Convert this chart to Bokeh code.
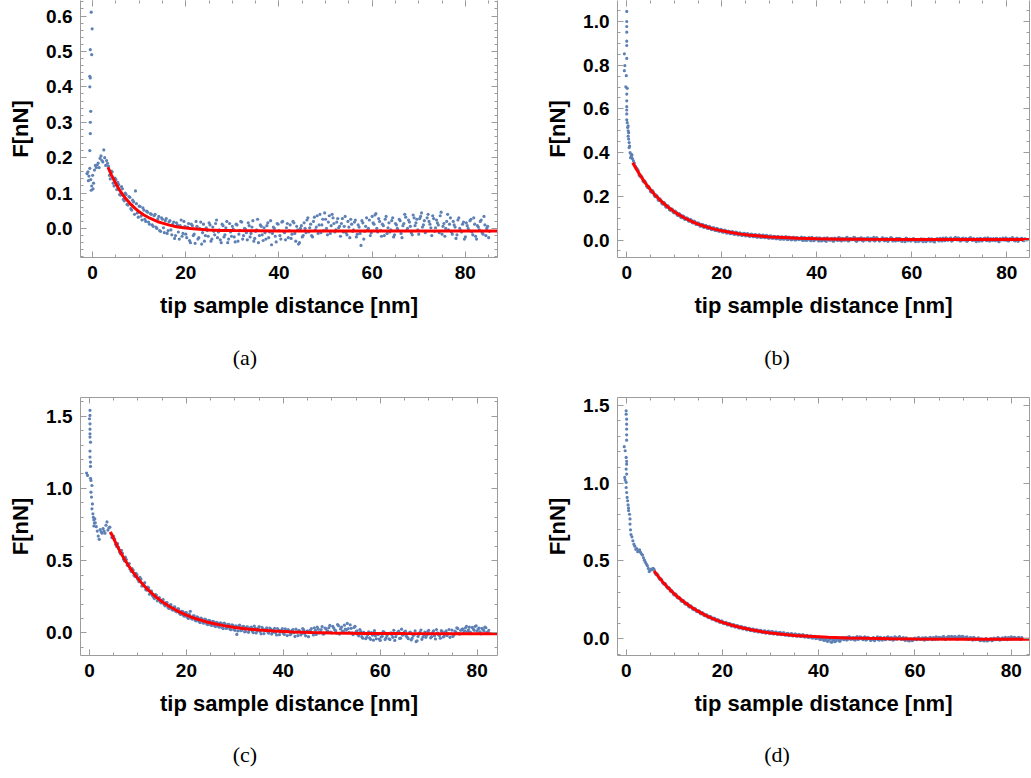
from bokeh.plotting import figure
from bokeh.models import (LinearAxis, Range1d, SingleIntervalTicker, Div, Spacer,
                          PrintfTickFormatter, CustomJSTickFormatter)
from bokeh.layouts import column, row
from bokeh.embed import file_html
from bokeh.resources import INLINE

# ---------------- data ----------------
# sampled tip-sample distances [nm] (two interleaved sample sets)
x_grid_nm = [
    1.2, 1.6, 2.0, 2.4, 2.8, 3.2, 3.6, 4.0, 4.4, 4.8,
    5.2, 5.6, 6.0, 6.4, 6.8, 7.2, 7.6, 8.0, 8.4, 8.8,
    9.2, 9.6, 10.0, 10.4, 10.8, 11.2, 11.6, 12.0, 12.4, 12.8,
    13.2, 13.6, 14.0, 14.4, 14.8, 15.2, 15.6, 16.0, 16.4, 16.8,
    17.2, 17.6, 18.0, 18.4, 18.8, 19.2, 19.6, 20.0, 20.4, 20.8,
    21.2, 21.6, 22.0, 22.4, 22.8, 23.2, 23.6, 24.0, 24.4, 24.8,
    25.2, 25.6, 26.0, 26.4, 26.8, 27.2, 27.6, 28.0, 28.4, 28.8,
    29.2, 29.6, 30.0, 30.4, 30.8, 31.2, 31.6, 32.0, 32.4, 32.8,
    33.2, 33.6, 34.0, 34.4, 34.8, 35.2, 35.6, 36.0, 36.4, 36.8,
    37.2, 37.6, 38.0, 38.4, 38.8, 39.2, 39.6, 40.0, 40.4, 40.8,
    41.2, 41.6, 42.0, 42.4, 42.8, 43.2, 43.6, 44.0, 44.4, 44.8,
    45.2, 45.6, 46.0, 46.4, 46.8, 47.2, 47.6, 48.0, 48.4, 48.8,
    49.2, 49.6, 50.0, 50.4, 50.8, 51.2, 51.6, 52.0, 52.4, 52.8,
    53.2, 53.6, 54.0, 54.4, 54.8, 55.2, 55.6, 56.0, 56.4, 56.8,
    57.2, 57.6, 58.0, 58.4, 58.8, 59.2, 59.6, 60.0, 60.4, 60.8,
    61.2, 61.6, 62.0, 62.4, 62.8, 63.2, 63.6, 64.0, 64.4, 64.8,
    65.2, 65.6, 66.0, 66.4, 66.8, 67.2, 67.6, 68.0, 68.4, 68.8,
    69.2, 69.6, 70.0, 70.4, 70.8, 71.2, 71.6, 72.0, 72.4, 72.8,
    73.2, 73.6, 74.0, 74.4, 74.8, 75.2, 75.6, 76.0, 76.4, 76.8,
    77.2, 77.6, 78.0, 78.4, 78.8, 79.2, 79.6, 80.0, 80.4, 80.8,
    81.2, 81.6, 82.0, 82.4, 82.8, 83.2, 83.6, 84.0, 84.4, 84.8,
    85.2,
]
x_grid2_nm = [
    1.4, 1.8, 2.2, 2.6, 3.0, 3.4, 3.8, 4.2, 4.6, 5.0,
    5.4, 5.8, 6.2, 6.6, 7.0, 7.4, 7.8, 8.2, 8.6, 9.0,
    9.4, 9.8, 10.2, 10.6, 11.0, 11.4, 11.8, 12.2, 12.6, 13.0,
    13.4, 13.8, 14.2, 14.6, 15.0, 15.4, 15.8, 16.2, 16.6, 17.0,
    17.4, 17.8, 18.2, 18.6, 19.0, 19.4, 19.8, 20.2, 20.6, 21.0,
    21.4, 21.8, 22.2, 22.6, 23.0, 23.4, 23.8, 24.2, 24.6, 25.0,
    25.4, 25.8, 26.2, 26.6, 27.0, 27.4, 27.8, 28.2, 28.6, 29.0,
    29.4, 29.8, 30.2, 30.6, 31.0, 31.4, 31.8, 32.2, 32.6, 33.0,
    33.4, 33.8, 34.2, 34.6, 35.0, 35.4, 35.8, 36.2, 36.6, 37.0,
    37.4, 37.8, 38.2, 38.6, 39.0, 39.4, 39.8, 40.2, 40.6, 41.0,
    41.4, 41.8, 42.2, 42.6, 43.0, 43.4, 43.8, 44.2, 44.6, 45.0,
    45.4, 45.8, 46.2, 46.6, 47.0, 47.4, 47.8, 48.2, 48.6, 49.0,
    49.4, 49.8, 50.2, 50.6, 51.0, 51.4, 51.8, 52.2, 52.6, 53.0,
    53.4, 53.8, 54.2, 54.6, 55.0, 55.4, 55.8, 56.2, 56.6, 57.0,
    57.4, 57.8, 58.2, 58.6, 59.0, 59.4, 59.8, 60.2, 60.6, 61.0,
    61.4, 61.8, 62.2, 62.6, 63.0, 63.4, 63.8, 64.2, 64.6, 65.0,
    65.4, 65.8, 66.2, 66.6, 67.0, 67.4, 67.8, 68.2, 68.6, 69.0,
    69.4, 69.8, 70.2, 70.6, 71.0, 71.4, 71.8, 72.2, 72.6, 73.0,
    73.4, 73.8, 74.2, 74.6, 75.0, 75.4, 75.8, 76.2, 76.6, 77.0,
    77.4, 77.8, 78.2, 78.6, 79.0, 79.4, 79.8, 80.2, 80.6, 81.0,
    81.4, 81.8, 82.2, 82.6, 83.0, 83.4, 83.8, 84.2, 84.6, 85.0,
]

# ---- panel (a) ----
head_a_x = [-0.3, -0.1, -0.5, -0.2, -0.6, -0.5, -0.6, -0.4, -0.5, -0.5, -0.6, -1.2, -1.0,
            -0.8, -0.6, -0.4, -0.2, 0.0, 0.2, -0.3, 0.4, 0.6, 0.8, 1.0, -0.9, 0.1]
head_a_F = [0.611, 0.564, 0.505, 0.491, 0.430, 0.425, 0.400, 0.331, 0.300, 0.268, 0.220, 0.155, 0.160,
            0.148, 0.170, 0.138, 0.120, 0.150, 0.128, 0.108, 0.165, 0.178, 0.172, 0.180, 0.135, 0.112]
F_a = [
    0.185, 0.198, 0.192, 0.222, 0.178, 0.184, 0.150, 0.162, 0.128, 0.142,
    0.110, 0.124, 0.094, 0.112, 0.078, 0.096, 0.066, 0.088, 0.052, 0.075,
    0.106, 0.044, 0.063, 0.035, 0.058, 0.026, 0.049, 0.018, 0.042, 0.010,
    0.036, 0.004, 0.027, -0.006, 0.030, 0.002, 0.022, -0.014, 0.019, -0.004,
    0.012, -0.028, 0.016, -0.010, 0.008, -0.022, 0.020, -0.016, 0.004, -0.034,
    0.012, -0.020, -0.042, 0.006, -0.026, 0.018, -0.012, -0.036, 0.002, -0.022,
    0.010, -0.030, -0.008, 0.014, -0.026, -0.004, -0.040, 0.008, -0.018, 0.020,
    -0.030, -0.010, 0.006, -0.024, 0.012, -0.036, -0.006, 0.018, -0.020, -0.002,
    -0.032, 0.008, -0.014, 0.022, -0.028, -0.004, -0.040, 0.010, -0.018, 0.002,
    -0.030, 0.016, -0.010, -0.046, 0.004, -0.022, 0.014, -0.006, -0.030, 0.020,
    -0.012, 0.002, -0.026, 0.010, -0.016, 0.016, -0.036, -0.004, -0.040, 0.008,
    -0.020, 0.000, 0.024, -0.010, 0.012, -0.024, 0.032, 0.004, -0.014, 0.040,
    0.010, -0.006, 0.026, -0.018, 0.036, 0.008, 0.030, -0.010, 0.018, 0.002,
    -0.022, 0.028, 0.006, -0.012, 0.020, -0.026, 0.012, -0.004, 0.024, -0.016,
    0.004, -0.048, 0.016, -0.008, 0.030, 0.000, -0.020, 0.034, 0.012, 0.042,
    -0.010, 0.020, -0.022, 0.008, 0.026, -0.014, 0.016, -0.004, 0.030, -0.018,
    0.010, -0.006, 0.022, -0.026, 0.014, 0.032, 0.000, 0.018, -0.012, 0.038,
    0.008, 0.026, -0.016, 0.034, 0.004, 0.022, -0.008, 0.040, 0.012, -0.020,
    0.028, 0.002, 0.016, -0.012, 0.046, 0.006, -0.022, 0.020, -0.004, 0.030,
    -0.016, 0.010, -0.028, 0.024, 0.000, -0.010, 0.018, -0.024, 0.008, -0.006,
    0.026, -0.018, 0.012, -0.030, 0.004, 0.020, -0.012, 0.034, -0.020, 0.006,
    -0.008,
]
F_a2 = [
    0.172, 0.205, 0.188, 0.200, 0.192, 0.176, 0.140, 0.160, 0.120, 0.138,
    0.130, 0.096, 0.118, 0.082, 0.100, 0.068, 0.090, 0.056, 0.080, 0.040,
    0.070, 0.032, 0.062, 0.024, 0.052, 0.020, 0.046, 0.012, 0.040, 0.006,
    0.040, 0.000, 0.034, -0.008, 0.026, -0.012, 0.028, -0.006, 0.022, -0.018,
    0.018, -0.020, 0.010, -0.030, 0.024, -0.014, 0.006, -0.026, 0.014, -0.040,
    0.008, -0.016, 0.020, -0.030, 0.000, -0.044, 0.012, -0.020, -0.006, 0.016,
    -0.036, 0.004, -0.018, 0.024, -0.010, -0.032, 0.012, -0.024, 0.002, -0.040,
    0.014, -0.022, -0.002, -0.038, 0.010, -0.016, 0.020, -0.030, 0.000, -0.012,
    0.016, -0.024, 0.004, -0.036, -0.008, 0.026, -0.020, 0.006, -0.034, -0.012,
    0.008, -0.026, 0.022, -0.014, 0.000, -0.038, 0.012, -0.020, 0.018, -0.008,
    -0.032, 0.014, -0.006, -0.028, 0.020, -0.014, 0.006, -0.044, 0.000, -0.024,
    0.016, -0.012, 0.030, 0.002, -0.020, 0.020, -0.004, 0.036, 0.010, -0.012,
    0.026, 0.044, 0.000, 0.018, -0.014, 0.040, 0.014, -0.004, 0.028, 0.006,
    0.014, -0.010, 0.034, -0.018, 0.004, 0.026, -0.008, 0.018, -0.024, 0.010,
    -0.014, 0.022, -0.030, 0.006, -0.004, 0.024, -0.012, 0.016, 0.038, 0.000,
    0.028, -0.006, 0.012, -0.020, 0.034, 0.002, -0.010, 0.022, -0.024, 0.014,
    0.000, 0.026, -0.014, 0.008, 0.040, -0.006, 0.024, 0.006, -0.018, 0.030,
    0.016, -0.004, 0.028, 0.044, 0.010, -0.012, 0.030, 0.020, 0.002, 0.036,
    -0.008, 0.024, 0.010, 0.036, -0.016, 0.014, 0.000, 0.040, 0.012, -0.010,
    0.020, 0.004, -0.018, 0.030, -0.006, 0.012, -0.030, 0.016, 0.000, 0.022,
    -0.010, 0.030, -0.022, 0.008, -0.004, 0.024, -0.016, 0.010, 0.000, -0.026,
]
fit_a_x = [3.3, 4, 5, 6, 7, 8, 9, 10, 11, 12, 13, 14, 15, 16.5, 18, 19.5, 21, 23, 25,
           27.5, 30, 35, 40, 50, 60, 87]
fit_a_F = [0.173, 0.152, 0.126, 0.104, 0.086, 0.071, 0.058, 0.047, 0.038, 0.031, 0.025, 0.019,
           0.015, 0.0095, 0.005, 0.002, 0.0, -0.0025, -0.004, -0.0055, -0.006, -0.0065, -0.007,
           -0.007, -0.007, -0.007]

# ---- panel (b) ----
head_b_x = [0.0, 0.0, 0.0, 0.0, 0.0, 0.0, -0.5, 0.0, -0.4, -0.5, -0.1, -0.2, 0.1, 0.0, 0.0, 0.0,
            0.0, 0.0, 0.0, 0.1, 0.3, 0.2, 0.3, 0.4, 0.3, 0.4, 0.5, 0.6, 0.5, 0.7, 0.9, 1.0, 0.8, 1.1]
head_b_F = [1.046, 1.000, 0.977, 0.951, 0.910, 0.890, 0.852, 0.831, 0.798, 0.775, 0.752, 0.701,
            0.694, 0.668, 0.637, 0.610, 0.595, 0.577, 0.550, 0.537, 0.522, 0.515, 0.500, 0.491,
            0.475, 0.462, 0.446, 0.430, 0.423, 0.400, 0.392, 0.384, 0.377, 0.390]
F_b = [
    0.372, 0.352, 0.330, 0.318, 0.292, 0.288, 0.266, 0.262, 0.240, 0.238,
    0.219, 0.220, 0.198, 0.200, 0.181, 0.182, 0.164, 0.168, 0.150, 0.153,
    0.136, 0.140, 0.124, 0.128, 0.112, 0.118, 0.102, 0.108, 0.094, 0.099,
    0.086, 0.091, 0.078, 0.083, 0.071, 0.076, 0.064, 0.070, 0.059, 0.064,
    0.053, 0.058, 0.049, 0.055, 0.044, 0.050, 0.041, 0.046, 0.037, 0.043,
    0.032, 0.039, 0.030, 0.036, 0.027, 0.034, 0.024, 0.031, 0.022, 0.030,
    0.020, 0.027, 0.018, 0.026, 0.016, 0.024, 0.014, 0.023, 0.012, 0.021,
    0.011, 0.019, 0.009, 0.018, 0.008, 0.016, 0.006, 0.014, 0.004, 0.013,
    0.005, 0.015, 0.003, 0.011, 0.002, 0.012, 0.001, 0.010, 0.003, 0.013,
    -0.002, 0.009, 0.000, 0.011, -0.003, 0.007, 0.001, 0.010, -0.004, 0.006,
    -0.002, 0.009, -0.006, 0.004, -0.001, 0.008, -0.005, 0.005, -0.002, 0.010,
    -0.004, 0.006, 0.000, 0.012, -0.003, 0.007, 0.002, 0.011, -0.006, 0.004,
    0.009, -0.002, 0.006, 0.000, 0.010, -0.004, 0.005, 0.012, -0.001, 0.007,
    -0.005, 0.004, 0.009, -0.003, 0.006, 0.001, 0.011, -0.004, 0.003, 0.008,
    -0.002, 0.005, -0.006, 0.002, 0.009, -0.003, 0.004, -0.001, 0.007, -0.007,
    0.001, -0.004, 0.005, -0.008, 0.000, -0.003, 0.006, -0.005, 0.002, -0.009,
    0.004, -0.002, 0.008, -0.004, 0.003, 0.010, -0.001, 0.006, -0.005, 0.004,
    0.012, 0.000, 0.007, -0.003, 0.009, 0.002, -0.006, 0.005, 0.011, -0.002,
    0.004, -0.007, 0.003, 0.008, -0.004, 0.006, 0.000, 0.010, -0.005, 0.003,
    0.007, -0.003, 0.005, -0.008, 0.002, 0.009, -0.001, 0.006, -0.004, 0.004,
    0.011, -0.002, 0.005, -0.006, 0.003, 0.008, -0.003, 0.004,
]
F_b2 = [
    0.362, 0.338, 0.326, 0.298, 0.294, 0.270, 0.270, 0.246, 0.246, 0.222,
    0.226, 0.204, 0.206, 0.184, 0.188, 0.168, 0.172, 0.152, 0.157, 0.139,
    0.143, 0.127, 0.132, 0.115, 0.121, 0.104, 0.111, 0.095, 0.102, 0.087,
    0.094, 0.079, 0.086, 0.071, 0.079, 0.064, 0.072, 0.058, 0.067, 0.053,
    0.062, 0.048, 0.057, 0.044, 0.053, 0.040, 0.049, 0.036, 0.045, 0.032,
    0.041, 0.029, 0.038, 0.026, 0.036, 0.023, 0.033, 0.021, 0.031, 0.019,
    0.029, 0.017, 0.027, 0.015, 0.025, 0.013, 0.024, 0.012, 0.022, 0.011,
    0.021, 0.009, 0.019, 0.008, 0.017, 0.006, 0.016, 0.005, 0.015, 0.004,
    0.014, 0.002, 0.013, 0.001, 0.012, 0.000, 0.011, 0.002, 0.010, -0.001,
    0.011, -0.002, 0.009, 0.000, 0.012, -0.003, 0.008, 0.001, 0.010, -0.004,
    0.007, -0.003, 0.010, 0.000, 0.006, -0.005, 0.009, 0.001, 0.011, -0.002,
    0.008, -0.001, 0.010, -0.004, 0.006, 0.002, 0.012, -0.003, 0.007, 0.000,
    0.010, -0.005, 0.004, 0.009, -0.002, 0.008, 0.001, -0.004, 0.011, 0.003,
    0.000, 0.010, -0.003, 0.007, -0.006, 0.005, 0.009, 0.000, -0.004, 0.006,
    0.008, -0.004, 0.003, -0.008, 0.006, 0.000, -0.005, 0.004, -0.002, 0.002,
    -0.006, 0.003, -0.002, 0.004, -0.007, 0.002, -0.004, 0.005, -0.006, 0.001,
    0.006, -0.004, 0.002, 0.009, -0.003, 0.007, 0.001, 0.010, -0.002, 0.008,
    0.003, 0.010, -0.004, 0.006, 0.000, 0.008, -0.003, 0.009, 0.002, 0.006,
    -0.002, 0.007, -0.005, 0.005, 0.001, 0.009, -0.003, 0.004, 0.007, -0.002,
    0.002, 0.008, -0.004, 0.006, 0.000, 0.003, 0.010, -0.003, 0.007, 0.001,
    0.006, -0.004, 0.009, 0.001, 0.007, -0.002, 0.005, 0.000,
]
fit_b_x = [1.26, 2, 3, 4, 5, 6, 7, 8, 9, 10.5, 12, 13.5, 15, 16.5, 18, 20, 22, 24, 26, 28, 30,
           33, 36, 40, 45, 50, 60, 70, 84.8]
fit_b_F = [0.354, 0.325, 0.290, 0.258, 0.230, 0.205, 0.183, 0.163, 0.145, 0.122, 0.103, 0.087,
           0.073, 0.062, 0.052, 0.042, 0.034, 0.027, 0.022, 0.018, 0.014, 0.011, 0.008, 0.006,
           0.004, 0.003, 0.0025, 0.002, 0.002]

# ---- panel (c) ----
head_c_x = [0.1, 0.1, 0.0, 0.1, 0.1, 0.1, 0.1, 0.2, 0.1, 0.1, 0.2, 0.2, -0.6, -0.4, 0.2, 0.3,
            0.5, 0.3, 0.4, 0.6, 0.5, 0.7, 0.8, 0.9, 1.0, 0.9, 1.1]
head_c_F = [1.540, 1.505, 1.482, 1.447, 1.410, 1.378, 1.355, 1.320, 1.258, 1.217, 1.182, 1.152,
            1.106, 1.090, 1.070, 1.055, 1.020, 0.974, 0.940, 0.893, 0.859, 0.824, 0.800, 0.782,
            0.760, 0.740, 0.790]
F_c = [
    0.762, 0.705, 0.648, 0.700, 0.722, 0.690, 0.768, 0.728, 0.688, 0.672,
    0.650, 0.598, 0.592, 0.548, 0.552, 0.498, 0.508, 0.470, 0.440, 0.445,
    0.398, 0.412, 0.370, 0.385, 0.325, 0.340, 0.300, 0.318, 0.268, 0.290,
    0.248, 0.266, 0.222, 0.245, 0.208, 0.230, 0.188, 0.210, 0.170, 0.196,
    0.158, 0.180, 0.146, 0.166, 0.128, 0.150, 0.116, 0.140, 0.100, 0.150,
    0.096, 0.118, 0.084, 0.106, 0.072, 0.098, 0.068, 0.092, 0.058, 0.086,
    0.052, 0.078, 0.044, 0.070, 0.040, 0.066, 0.030, 0.062, 0.034, 0.058,
    0.022, 0.052, 0.018, -0.010, 0.050, 0.016, 0.044, 0.008, 0.040, 0.004,
    0.036, 0.012, 0.048, 0.000, 0.032, 0.010, 0.038, -0.004, 0.026, 0.006,
    0.034, -0.008, 0.022, 0.002, 0.030, -0.012, 0.018, -0.002, 0.028, -0.018,
    0.012, -0.006, 0.024, -0.024, 0.006, 0.018, -0.014, 0.030, -0.004, 0.010,
    -0.026, 0.020, 0.002, 0.036, -0.010, 0.026, 0.008, 0.044, -0.006, 0.030,
    0.012, 0.052, 0.000, 0.034, 0.016, 0.058, -0.008, 0.040, 0.010, 0.026,
    0.066, 0.004, 0.032, -0.012, 0.046, 0.014, -0.020, 0.010, -0.036, -0.006,
    -0.030, 0.008, -0.044, -0.016, 0.016, -0.040, -0.010, -0.052, -0.022, 0.006,
    -0.034, -0.004, -0.046, -0.014, 0.018, -0.026, 0.004, -0.038, 0.026, -0.010,
    0.012, -0.030, 0.000, -0.048, -0.018, 0.014, -0.054, -0.008, 0.020, -0.028,
    0.006, -0.016, 0.018, -0.034, 0.002, -0.020, 0.024, -0.010, -0.036, 0.010,
    -0.022, 0.014, -0.004, -0.030, 0.020, -0.012, 0.006, 0.030, -0.008, 0.022,
    0.002, 0.036, 0.010, 0.040, -0.004, 0.028, 0.046, 0.012, 0.034, -0.006,
    0.024, 0.040, 0.004, 0.018,
]
F_c2 = [
    0.735, 0.670, 0.715, 0.690, 0.705, 0.745, 0.712, 0.732, 0.660, 0.668,
    0.612, 0.618, 0.560, 0.572, 0.510, 0.524, 0.468, 0.480, 0.425, 0.435,
    0.390, 0.402, 0.355, 0.372, 0.326, 0.348, 0.296, 0.312, 0.290, 0.258,
    0.238, 0.262, 0.230, 0.214, 0.228, 0.196, 0.210, 0.176, 0.192, 0.162,
    0.178, 0.150, 0.166, 0.134, 0.150, 0.120, 0.140, 0.108, 0.130, 0.102,
    0.118, 0.088, 0.112, 0.080, 0.102, 0.070, 0.096, 0.062, 0.088, 0.056,
    0.080, 0.050, 0.074, 0.046, 0.070, 0.036, 0.068, 0.032, 0.060, 0.026,
    0.056, 0.024, 0.050, 0.014, 0.054, 0.018, 0.046, 0.010, 0.042, 0.020,
    0.040, 0.002, 0.034, 0.014, 0.044, -0.006, 0.028, 0.016, 0.036, -0.002,
    0.026, 0.004, 0.032, -0.014, 0.020, 0.008, 0.030, -0.010, 0.016, 0.024,
    -0.012, 0.018, 0.002, 0.026, -0.018, 0.012, -0.004, 0.022, -0.020, 0.014,
    0.004, 0.030, -0.014, 0.018, 0.040, 0.000, 0.024, -0.008, 0.034, 0.014,
    0.036, 0.006, 0.046, 0.022, -0.002, 0.050, 0.028, 0.012, 0.054, 0.020,
    0.030, 0.056, 0.000, 0.038, 0.008, -0.014, 0.024, -0.026, 0.004, -0.040,
    -0.012, -0.034, 0.002, -0.050, -0.020, -0.006, -0.042, -0.028, 0.010, -0.046,
    -0.018, -0.040, 0.000, -0.030, -0.052, -0.008, 0.012, -0.036, -0.016, 0.008,
    -0.022, -0.040, 0.006, -0.036, -0.012, -0.060, -0.024, 0.004, -0.044, -0.014,
    -0.030, 0.010, -0.006, -0.026, 0.014, -0.042, 0.000, -0.018, 0.016, -0.028,
    0.004, -0.018, 0.024, -0.006, -0.024, 0.012, 0.036, -0.002, 0.018, 0.028,
    0.014, 0.046, 0.022, 0.006, 0.038, 0.018, 0.050, 0.026, 0.008, 0.032,
    0.014, 0.036, 0.006,
]
fit_c_x = [4.33, 5, 6, 7, 8, 9, 10, 11, 12, 13.5, 15, 16.5, 18, 20, 22, 24, 26, 28, 30, 32.5,
           35, 38, 42, 46, 50, 57, 65, 75, 84.2]
fit_c_F = [0.700, 0.651, 0.583, 0.522, 0.468, 0.419, 0.376, 0.336, 0.301, 0.255, 0.216, 0.183,
           0.155, 0.123, 0.098, 0.078, 0.062, 0.049, 0.038, 0.028, 0.020, 0.013, 0.007, 0.003,
           0.000, -0.003, -0.004, -0.005, -0.005]

# ---- panel (d) ----
head_d_x = [0.0, 0.0, 0.1, 0.1, 0.1, 0.1, 0.1, -0.4, -0.2, 0.0, 0.1, 0.1, 0.0, 0.1, -0.3, -0.2,
            0.0, 0.0, 0.1, 0.2, 0.3, 0.4, 0.5, 0.5, 0.7, 0.8, 0.8, 0.9, 1.0]
head_d_F = [1.465, 1.443, 1.411, 1.379, 1.347, 1.310, 1.276, 1.234, 1.208, 1.165, 1.140, 1.122,
            1.090, 1.058, 1.037, 1.020, 1.005, 0.972, 0.940, 0.908, 0.887, 0.860, 0.840, 0.824,
            0.800, 0.770, 0.737, 0.700, 0.670]
F_d = [
    0.655, 0.608, 0.575, 0.560, 0.572, 0.545, 0.520, 0.492, 0.470, 0.432,
    0.448, 0.452, 0.424, 0.418, 0.392, 0.386, 0.360, 0.356, 0.334, 0.330,
    0.306, 0.304, 0.282, 0.282, 0.262, 0.260, 0.240, 0.242, 0.222, 0.224,
    0.204, 0.206, 0.188, 0.192, 0.174, 0.178, 0.160, 0.164, 0.148, 0.152,
    0.136, 0.142, 0.126, 0.131, 0.115, 0.121, 0.107, 0.112, 0.098, 0.104,
    0.090, 0.097, 0.083, 0.090, 0.077, 0.083, 0.070, 0.078, 0.064, 0.072,
    0.059, 0.067, 0.054, 0.062, 0.050, 0.058, 0.046, 0.054, 0.042, 0.052,
    0.040, 0.049, 0.036, 0.046, 0.034, 0.044, 0.030, 0.041, 0.028, 0.038,
    0.025, 0.036, 0.024, 0.033, 0.020, 0.030, 0.018, 0.028, 0.015, 0.026,
    0.012, 0.022, 0.010, 0.020, 0.006, 0.016, 0.004, 0.012, -0.004, 0.006,
    -0.010, 0.002, -0.014, -0.002, -0.020, 0.000, -0.012, 0.004, -0.016, 0.006,
    -0.006, 0.010, -0.004, 0.012, -0.002, 0.008, -0.008, 0.014, 0.000, 0.010,
    -0.006, 0.012, -0.004, 0.006, -0.010, 0.004, -0.012, 0.002, -0.006, 0.010,
    -0.008, 0.008, -0.002, 0.012, -0.004, 0.006, -0.006, 0.010, 0.000, 0.014,
    -0.004, 0.008, -0.010, 0.002, -0.014, -0.002, -0.008, 0.004, -0.006, 0.008,
    -0.004, 0.006, -0.008, 0.004, -0.002, 0.010, -0.006, 0.004, 0.012, -0.002,
    0.008, 0.000, 0.014, -0.004, 0.010, 0.002, 0.016, 0.004, 0.012, -0.002,
    0.018, 0.006, 0.014, 0.000, 0.012, -0.004, 0.008, -0.008, 0.004, -0.002,
    0.006, -0.012, -0.004, -0.014, 0.002, -0.010, -0.002, -0.012, 0.004, -0.006,
    0.008, -0.008, 0.002, -0.004, 0.010, -0.006, 0.004, 0.012, -0.002, 0.008,
    0.000, 0.010, -0.004,
]
F_d2 = [
    0.630, 0.595, 0.580, 0.565, 0.555, 0.538, 0.505, 0.480, 0.452, 0.440,
    0.444, 0.446, 0.414, 0.410, 0.382, 0.379, 0.353, 0.351, 0.326, 0.325,
    0.312, 0.288, 0.289, 0.266, 0.267, 0.245, 0.247, 0.226, 0.229, 0.208,
    0.212, 0.192, 0.196, 0.177, 0.182, 0.163, 0.168, 0.150, 0.156, 0.138,
    0.144, 0.127, 0.134, 0.117, 0.124, 0.107, 0.115, 0.098, 0.106, 0.090,
    0.099, 0.083, 0.092, 0.076, 0.085, 0.070, 0.079, 0.064, 0.073, 0.058,
    0.068, 0.053, 0.063, 0.048, 0.058, 0.044, 0.054, 0.040, 0.050, 0.036,
    0.048, 0.034, 0.046, 0.031, 0.043, 0.029, 0.040, 0.027, 0.038, 0.024,
    0.034, 0.021, 0.032, 0.019, 0.030, 0.017, 0.027, 0.015, 0.025, 0.013,
    0.020, 0.010, 0.018, 0.006, 0.014, 0.002, 0.010, -0.002, 0.006, -0.008,
    -0.004, -0.016, 0.000, -0.022, -0.008, -0.018, 0.002, -0.012, -0.004, 0.008,
    0.002, -0.008, 0.012, -0.002, 0.006, -0.006, 0.010, -0.004, 0.012, 0.002,
    0.008, -0.008, 0.010, 0.000, -0.006, 0.008, -0.002, 0.012, -0.008, 0.004,
    0.002, -0.006, 0.010, 0.000, 0.008, -0.008, 0.012, -0.002, 0.008, 0.002,
    0.004, -0.006, 0.006, -0.010, 0.000, -0.012, 0.002, -0.004, 0.006, -0.002,
    0.002, -0.006, 0.008, -0.004, 0.006, 0.000, 0.008, -0.004, 0.006, 0.010,
    0.004, 0.012, -0.002, 0.008, 0.016, 0.000, 0.010, 0.014, 0.006, 0.012,
    0.010, 0.016, 0.004, 0.010, -0.002, 0.006, 0.002, 0.010, -0.006, 0.002,
    -0.008, 0.000, -0.010, -0.002, -0.014, -0.006, 0.002, -0.008, 0.000, -0.004,
    0.004, -0.006, 0.006, 0.000, -0.004, 0.008, -0.002, 0.006, 0.010, 0.000,
    0.006, -0.002, 0.008,
]
fit_d_x = [5.8, 6.5, 7.5, 8.5, 9.5, 10.5, 12, 13.5, 15, 16.5, 18, 20, 22, 24, 26, 28, 30, 32.5,
           35, 38, 42, 46, 50, 55, 60, 70, 83.8]
fit_d_F = [0.437, 0.408, 0.369, 0.335, 0.303, 0.275, 0.237, 0.204, 0.176, 0.151, 0.130, 0.106,
           0.087, 0.071, 0.058, 0.047, 0.038, 0.029, 0.022, 0.016, 0.010, 0.006, 0.003, 0.0005,
           -0.001, -0.002, -0.002]

captions = ["(a)", "(b)", "(c)", "(d)"]
x_label = "tip sample distance [nm]"
y_label = "F[nN]"

# ---------------- styling ----------------
FRAME = "#9c9c9c"
DOT = "#5E81B5"
FIT = "#FF0000"
SANS = "Liberation Sans"
SERIF = "Liberation Serif"


def style_axis(ax, ticker, labels, line_visible=True, fmt=None):
    ax.ticker = ticker
    ax.axis_line_color = FRAME if line_visible else None
    ax.axis_line_width = 1
    ax.major_tick_line_color = FRAME
    ax.minor_tick_line_color = FRAME
    ax.major_tick_in = 6
    ax.major_tick_out = 0
    ax.minor_tick_in = 3
    ax.minor_tick_out = 0
    if labels:
        if fmt is not None:
            ax.formatter = PrintfTickFormatter(format=fmt)
        ax.major_label_text_font = SANS
        ax.major_label_text_font_style = "bold"
        ax.major_label_text_font_size = "19px"
        ax.major_label_text_color = "black"
        ax.major_label_standoff = 8
        ax.axis_label_text_font = SANS
        ax.axis_label_text_font_style = "bold"
        ax.axis_label_text_font_size = "22px"
        ax.axis_label_text_color = "black"
    else:
        ax.formatter = CustomJSTickFormatter(code="return ''")
        ax.major_label_text_font_size = "1px"
        ax.major_label_standoff = 0


def panel(xs, ys, fx, fy, xr, yr, y_int, y_minor, width, height, bl, br, bt, bb, top_line):
    p = figure(width=width, height=height, x_range=Range1d(*xr), y_range=Range1d(*yr),
               output_backend="svg", toolbar_location=None,
               min_border_left=bl, min_border_right=br, min_border_top=bt, min_border_bottom=bb)
    p.outline_line_color = None
    p.xgrid.visible = False
    p.ygrid.visible = False
    p.background_fill_color = "white"
    p.border_fill_color = "white"

    style_axis(p.xaxis[0], SingleIntervalTicker(interval=20, num_minor_ticks=4), True, fmt="%d")
    style_axis(p.yaxis[0], SingleIntervalTicker(interval=y_int, num_minor_ticks=y_minor), True,
               fmt="%.1f")
    p.xaxis[0].axis_label = x_label
    p.xaxis[0].axis_label_standoff = 11
    p.yaxis[0].axis_label = y_label
    p.yaxis[0].axis_label_standoff = 10

    ax_r = LinearAxis()
    style_axis(ax_r, SingleIntervalTicker(interval=y_int, num_minor_ticks=y_minor), False)
    p.add_layout(ax_r, "right")
    ax_t = LinearAxis()
    style_axis(ax_t, SingleIntervalTicker(interval=20, num_minor_ticks=4), False, top_line)
    p.add_layout(ax_t, "above")

    p.scatter(xs, ys, size=3.2, color=DOT, line_color=None)
    p.line(fx, fy, line_width=3, color=FIT)
    return p


def caption_div(text, width, height, top):
    return Div(text=text, width=width, height=height - top, margin=(top, 0, 0, 0),
               styles={"text-align": "center", "font-family": SERIF, "font-size": "22px",
                       "line-height": "24px", "color": "black"})


def pts(sets):
    xs, ys = [], []
    for gx, gy in sets:
        n = min(len(gx), len(gy))
        xs += gx[:n]
        ys += gy[:n]
    return xs, ys


xa, ya = pts([(head_a_x, head_a_F), (x_grid_nm, F_a), (x_grid2_nm, F_a2)])
xb, yb = pts([(head_b_x, head_b_F), (x_grid_nm, F_b), (x_grid2_nm, F_b2)])
xc, yc = pts([(head_c_x, head_c_F), (x_grid_nm, F_c), (x_grid2_nm, F_c2)])
xd, yd = pts([(head_d_x, head_d_F), (x_grid_nm, F_d), (x_grid2_nm, F_d2)])

pa = panel(xa, ya, fit_a_x, fit_a_F, (-2.6, 86.9), (-0.082, 0.644), 0.1, 5,
           515, 327, 80, 18, 0, 70, False)
pb = panel(xb, yb, fit_b_x, fit_b_F, (-1.95, 84.8), (-0.080, 1.096), 0.2, 4,
           516, 327, 102, 2, 0, 70, False)
pc = panel(xc, yc, fit_c_x, fit_c_F, (-1.86, 84.2), (-0.156, 1.629), 0.5, 5,
           515, 335, 80, 18, 7, 70, True)
pd = panel(xd, yd, fit_d_x, fit_d_F, (-1.8, 83.8), (-0.107, 1.55), 0.5, 5,
           516, 335, 102, 2, 7, 70, True)

cap_row_1 = row(caption_div(captions[0], 490, 63, 19), Spacer(width=50, height=63),
                caption_div(captions[1], 474, 63, 19))
cap_row_2 = row(caption_div(captions[2], 490, 53, 18), Spacer(width=50, height=53),
                caption_div(captions[3], 474, 53, 18))

layout = column(row(pa, pb), cap_row_1, row(pc, pd), cap_row_2)

open("out.html", "w").write(file_html(layout, INLINE))
